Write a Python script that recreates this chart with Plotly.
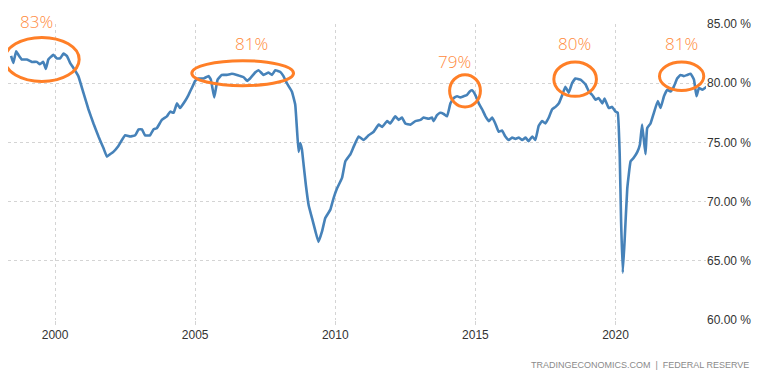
import plotly.graph_objects as go

# Capacity utilization (%)
years = [
    1998.43, 1998.51, 1998.61, 1998.69, 1998.81, 1998.99, 1999.17, 1999.35, 1999.46, 1999.58,
    1999.67, 1999.76, 1999.94, 2000.06, 2000.18, 2000.30, 2000.42, 2000.54, 2000.65, 2000.83,
    2001.01, 2001.19, 2001.37, 2001.55, 2001.73, 2001.85, 2001.96, 2002.08, 2002.26, 2002.50,
    2002.68, 2002.86, 2002.98, 2003.10, 2003.21, 2003.39, 2003.51, 2003.63, 2003.81, 2003.99,
    2004.11, 2004.23, 2004.35, 2004.46, 2004.64, 2004.76, 2004.88, 2005.00, 2005.12, 2005.30,
    2005.48, 2005.56, 2005.68, 2005.80, 2005.95, 2006.13, 2006.31, 2006.49, 2006.61, 2006.73,
    2006.85, 2006.96, 2007.14, 2007.26, 2007.44, 2007.62, 2007.74, 2007.86, 2008.04, 2008.15,
    2008.27, 2008.45, 2008.57, 2008.63, 2008.69, 2008.75, 2008.81, 2008.87, 2008.95, 2009.05,
    2009.17, 2009.29, 2009.40, 2009.53, 2009.64, 2009.82, 2009.94, 2010.06, 2010.24, 2010.36,
    2010.54, 2010.65, 2010.83, 2011.01, 2011.19, 2011.37, 2011.55, 2011.67, 2011.85, 2011.96,
    2012.14, 2012.26, 2012.38, 2012.50, 2012.68, 2012.86, 2013.04, 2013.15, 2013.33, 2013.45,
    2013.51, 2013.63, 2013.75, 2013.87, 2013.99, 2014.11, 2014.23, 2014.35, 2014.46, 2014.58,
    2014.70, 2014.80, 2014.88, 2015.00, 2015.12, 2015.24, 2015.36, 2015.48, 2015.60, 2015.71,
    2015.83, 2015.95, 2016.07, 2016.19, 2016.31, 2016.43, 2016.55, 2016.67, 2016.79, 2016.90,
    2017.03, 2017.14, 2017.26, 2017.38, 2017.50, 2017.62, 2017.74, 2017.86, 2017.98, 2018.10,
    2018.21, 2018.33, 2018.45, 2018.57, 2018.75, 2018.93, 2019.05, 2019.17, 2019.29, 2019.40,
    2019.53, 2019.61, 2019.76, 2019.88, 2020.00, 2020.08, 2020.15, 2020.20, 2020.26, 2020.33,
    2020.42, 2020.54, 2020.65, 2020.78, 2020.87, 2020.95, 2021.07, 2021.13, 2021.25, 2021.37,
    2021.51, 2021.61, 2021.73, 2021.85, 2021.96, 2022.08, 2022.20, 2022.32, 2022.44, 2022.56,
    2022.68, 2022.80, 2022.89, 2022.98, 2023.10, 2023.25,
]
values = [
    82.3, 81.7, 82.7, 82.4, 82.0, 82.0, 81.8, 81.8, 81.6, 81.8,
    81.2, 82.0, 82.4, 82.1, 82.1, 82.5, 82.3, 81.7, 81.3, 80.6,
    79.2, 77.8, 76.6, 75.5, 74.5, 73.8, 74.0, 74.2, 74.7, 75.6,
    75.5, 75.6, 76.1, 76.1, 75.6, 75.6, 76.1, 76.2, 76.9, 77.2,
    77.6, 77.5, 78.3, 77.9, 78.5, 79.0, 79.6, 80.2, 80.4, 80.4,
    80.6, 80.3, 78.8, 80.3, 80.7, 80.7, 80.8, 80.7, 80.6, 80.5,
    80.2, 80.4, 80.9, 81.1, 80.7, 80.9, 80.7, 81.1, 80.95, 80.6,
    80.0, 79.3, 78.2, 76.2, 74.2, 74.95, 74.4, 73.1, 71.4, 69.7,
    68.6, 67.5, 66.6, 67.5, 68.6, 69.3, 70.3, 71.1, 72.0, 73.4,
    74.0, 74.6, 75.5, 75.2, 75.6, 75.9, 76.5, 76.3, 76.8, 76.6,
    77.2, 76.9, 77.1, 76.6, 76.5, 76.8, 76.9, 77.1, 77.0, 77.1,
    76.8, 77.3, 77.5, 77.4, 77.2, 78.3, 78.75, 78.9, 78.8, 78.9,
    79.0, 79.3, 79.4, 79.0, 78.3, 77.8, 77.2, 76.8, 77.1, 76.6,
    75.9, 76.0, 75.5, 75.2, 75.4, 75.3, 75.4, 75.2, 75.4, 75.1,
    75.5, 75.2, 76.4, 76.8, 76.6, 77.1, 77.8, 78.0, 78.3, 79.0,
    79.7, 79.2, 80.0, 80.4, 80.3, 79.9, 79.3, 79.0, 78.6, 78.75,
    78.3, 78.7, 77.9, 78.0, 77.6, 77.5, 74.0, 68.3, 64.0, 66.9,
    71.1, 73.4, 73.7, 74.2, 74.8, 76.5, 74.0, 76.2, 76.6, 77.5,
    78.5, 77.9, 78.9, 79.45, 79.3, 79.7, 80.4, 80.7, 80.6, 80.7,
    80.8, 80.3, 78.9, 79.6, 79.45, 79.7,
]

tick_years = [2000, 2005, 2010, 2015, 2020]
tick_values = [60, 65, 70, 75, 80, 85]

# Highlighted peaks: label, ellipse bounds (years / %), label position
peak_labels = ["83%", "81%", "79%", "80%", "81%"]
peak_x0 = [1998.20, 2004.88, 2014.08, 2017.80, 2021.57]
peak_x1 = [2000.86, 2008.51, 2015.18, 2019.32, 2023.15]
peak_y0 = [80.15, 79.79, 77.99, 78.89, 79.39]
peak_y1 = [83.87, 81.90, 80.72, 81.79, 81.79]
label_x = [1999.32, 2007.00, 2014.27, 2018.53, 2022.36]
label_y = [85.87, 83.33, 81.82, 83.34, 83.34]

X_RANGE = [1998.32, 2023.23]
Y_RANGE = [60, 85]

PLOT_W = 698
PLOT_H = 296
TOP_M = 16


def px_x(v):
    return (v - X_RANGE[0]) / (X_RANGE[1] - X_RANGE[0])


def px_y(v):
    return (v - Y_RANGE[0]) / (Y_RANGE[1] - Y_RANGE[0])


fig = go.Figure()
fig.add_trace(go.Scatter(
    x=years, y=values, mode="lines",
    line=dict(color="#4682B9", width=2.6, shape="spline", smoothing=0.3),
    hoverinfo="skip", showlegend=False,
))

ORANGE = "#FF7F27"
TEXT_ORANGE = "#FF8A3D"
top_limit = 1 + TOP_M / PLOT_H
shapes = []
annotations = []
for lab, x0, x1, y0, y1, lx, ly in zip(peak_labels, peak_x0, peak_x1, peak_y0, peak_y1, label_x, label_y):
    shapes.append(dict(
        type="circle", xref="paper", yref="paper",
        x0=px_x(x0), x1=px_x(x1), y0=px_y(y0), y1=px_y(y1),
        line=dict(color=ORANGE, width=3), layer="above",
    ))
    yy = px_y(ly)
    anchor = "middle"
    if yy + 12 / PLOT_H > top_limit:
        # keep the label box inside the figure's top edge
        yy = top_limit
        anchor = "top"
    annotations.append(dict(
        text=lab, xref="paper", yref="paper", x=px_x(lx), y=yy,
        showarrow=False, xanchor="center", yanchor=anchor,
        font=dict(family="Open Sans", size=17, color=TEXT_ORANGE, weight=300),
    ))

annotations.append(dict(
    text="TRADINGECONOMICS.COM  |  FEDERAL RESERVE",
    xref="paper", yref="paper", x=1.0 + 45 / PLOT_W, y=-45 / PLOT_H,
    xanchor="right", yanchor="middle", showarrow=False,
    font=dict(family="Liberation Sans", size=9, color="#8a8a8a"),
))

# The page has an 8px body margin, so the figure is sized to fit the window
fig.update_layout(
    width=754, height=364,
    margin=dict(l=0, r=754 - PLOT_W, t=TOP_M, b=364 - TOP_M - PLOT_H),
    paper_bgcolor="white", plot_bgcolor="white",
    shapes=shapes, annotations=annotations,
    showlegend=False,
)
fig.update_xaxes(
    range=X_RANGE, tickmode="array", tickvals=tick_years,
    ticktext=[str(y) for y in tick_years],
    showgrid=True, gridcolor="#d4d4d4", griddash="dot", gridwidth=1,
    ticks="outside", ticklen=4, tickcolor="#d4d4d4",
    showline=False, zeroline=False,
    tickfont=dict(family="Liberation Sans", size=12, color="#333333"),
)
fig.update_yaxes(
    range=Y_RANGE, side="right", tickmode="array", tickvals=tick_values,
    ticktext=[f"{v:.2f} %" for v in tick_values],
    showgrid=True, gridcolor="#d4d4d4", griddash="dot", gridwidth=1,
    showline=False, zeroline=False, ticks="",
    tickfont=dict(family="Liberation Sans", size=12, color="#333333"),
)

fig.write_html("out.html")
